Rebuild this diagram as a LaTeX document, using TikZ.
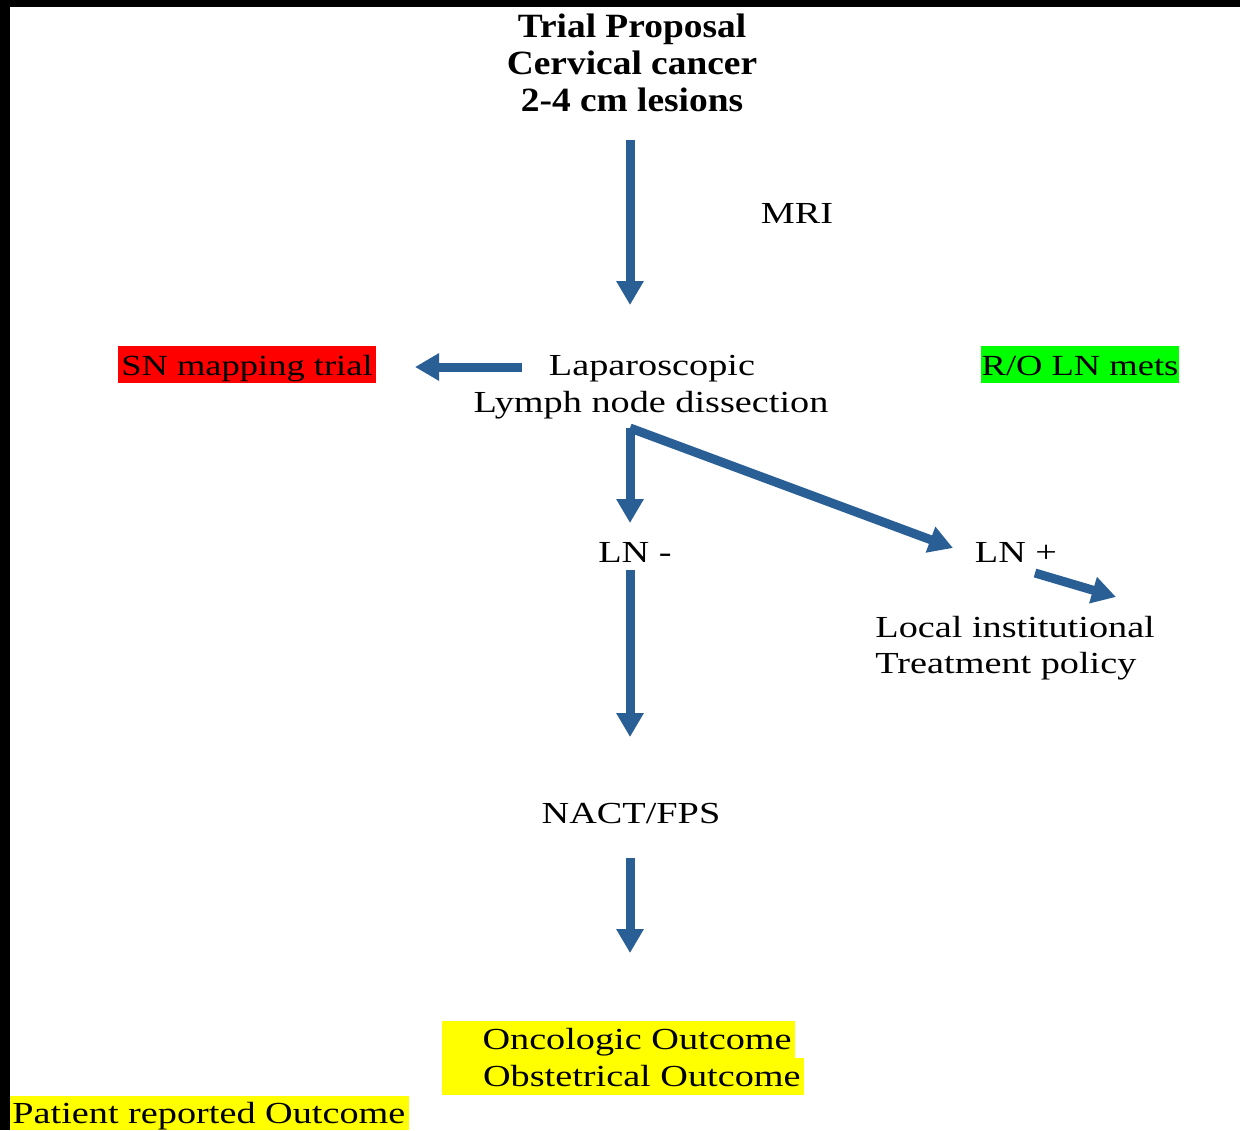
\documentclass[tikz,border=0pt]{standalone}
\usepackage{fontspec}
\setmainfont[FakeStretch=1.25]{Liberation Serif}
\newfontfamily\titlefont[FakeStretch=1.1]{Liberation Serif}
\usetikzlibrary{arrows.meta}
\definecolor{arrowblue}{RGB}{42,95,150}
\definecolor{hlred}{RGB}{255,0,0}
\definecolor{hlgreen}{RGB}{0,255,0}
\definecolor{hlyellow}{RGB}{255,255,0}
\tikzset{
  txt/.style={inner sep=0pt, font=\fontsize{15.3}{18.5}\selectfont, anchor=base},
  hltxt/.style={inner sep=0pt, font=\fontsize{14.6}{18.5}\selectfont, anchor=base},
  ttl/.style={inner sep=0pt, font=\titlefont\bfseries\fontsize{17}{18.5}\selectfont, anchor=base},
  flow/.style={draw=arrowblue, line width=4.5pt, -{Triangle[width=13pt,length=12pt]}},
}
\begin{document}
\begin{tikzpicture}[x=0.5pt,y=-0.5pt]
\useasboundingbox (0,0) rectangle (1240,1130);
\fill[black] (0,0) rectangle (1240,1130);
\fill[white] (10,7) rectangle (1240,1130);
% highlights
\fill[hlred] (118,346) rectangle (376,383);
\fill[hlgreen] (981,346) rectangle (1179,383);
\fill[hlyellow] (442,1021) rectangle (795,1058);
\fill[hlyellow] (442,1058) rectangle (804,1095);
\fill[hlyellow] (10,1096) rectangle (409,1130);
% texts
\node[ttl] (t1) at (632,37) {Trial Proposal};
\node[ttl] (t2) at (632,74) {Cervical cancer};
\node[ttl] (t3) at (632,111) {2-4 cm lesions};
\node[txt] (mri) at (797,223) {MRI};
\node[txt] (lap1) at (652,375) {Laparoscopic};
\node[txt] (lap2) at (651,412) {Lymph node dissection};
\node[hltxt] (sn) at (247,375) {SN mapping trial};
\node[hltxt] (ro) at (1080,375) {R/O LN mets};
\node[txt] (lnm) at (635,562) {LN -};
\node[txt] (lnp) at (1016,562) {LN +};
\node[txt, anchor=base west] (loc1) at (875,637) {Local institutional};
\node[txt, anchor=base west] (loc2) at (875,673) {Treatment policy};
\node[txt] (nact) at (631,823) {NACT/FPS};
\node[txt, anchor=base east] (onc) at (792,1049) {Oncologic Outcome};
\node[txt, anchor=base east] (obs) at (801,1086) {Obstetrical Outcome};
\node[txt, anchor=base west] (pro) at (12,1123) {Patient reported Outcome};
% connector ends
\coordinate (a1s) at (630,140);
\coordinate (a1e) at (630,305);
\coordinate (a2s) at (522,367);
\coordinate (a2e) at (415,367);
\coordinate (a3s) at (630,428);
\coordinate (a3e) at (630,523);
\coordinate (a4e) at (953,548);
\coordinate (a5s) at (1035,573);
\coordinate (a5e) at (1116,597);
\coordinate (a6s) at (630,570);
\coordinate (a6e) at (630,737);
\coordinate (a7s) at (630,858);
\coordinate (a7e) at (630,953);
% arrows
\draw[flow] (a1s) -- (a1e);
\draw[flow] (a2s) -- (a2e);
\draw[flow] (a3s) -- (a3e);
\draw[flow] (a3s) -- (a4e);
\draw[flow] (a5s) -- (a5e);
\draw[flow] (a6s) -- (a6e);
\draw[flow] (a7s) -- (a7e);
\end{tikzpicture}
\end{document}
